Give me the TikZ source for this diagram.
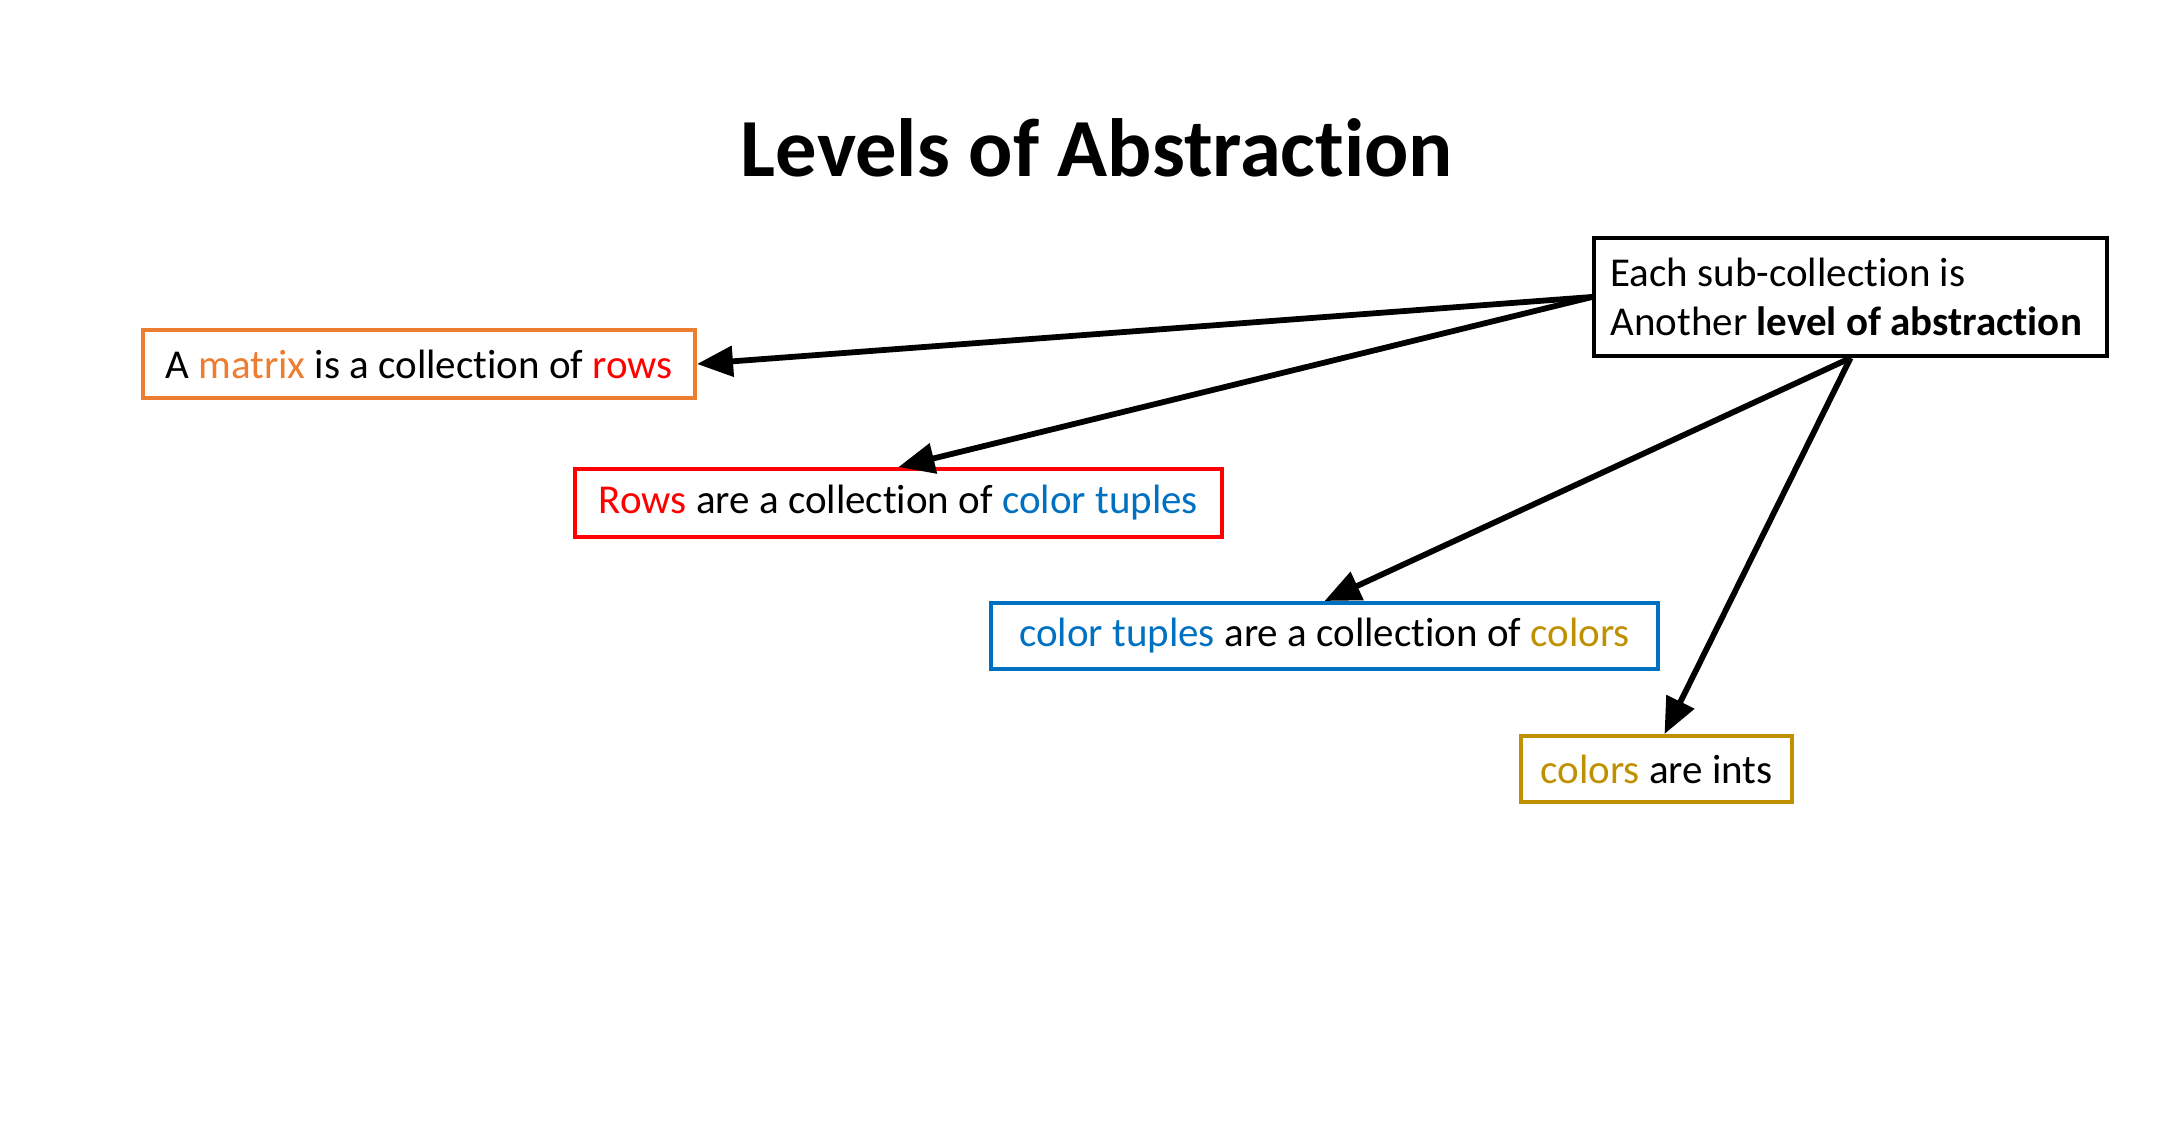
\documentclass[tikz,border=0pt]{standalone}
\usepackage{fontspec}
\setmainfont{Carlito}[Ligatures={NoCommon}]
\usetikzlibrary{arrows.meta}
\definecolor{corange}{HTML}{ED7D31}
\definecolor{cred}{HTML}{FF0000}
\definecolor{cblue}{HTML}{0070C0}
\definecolor{cgold}{HTML}{BF9000}
\begin{document}
\begin{tikzpicture}[x=0.5pt,y=-0.5pt,
  box/.style={draw, line width=2pt, rectangle, inner sep=0pt,
    minimum height=34pt, font=\fontsize{20.5}{24.8}\selectfont, anchor=center},
  link/.style={line width=2.9pt, -{Triangle[length=18pt,width=15pt]}}
]
\useasboundingbox (0,0) rectangle (2158,1128);

\node (title) at (1097,148) {\fontsize{41.3}{48}\selectfont\bfseries Levels of Abstraction};

\node[box, draw=corange, minimum width=276pt] (matrix) at (419,364)
  {A \textcolor{corange}{matrix} is a collection of \textcolor{cred}{rows}};
\node[box, draw=cred, minimum width=323.5pt] (rows) at (898.5,503)
  {\textcolor{cred}{Rows} are a collection of \textcolor{cblue}{color tuples}};
\node[box, draw=cblue, minimum width=333.5pt, minimum height=33pt] (tuples) at (1324.5,636)
  {\textcolor{cblue}{color tuples} are a collection of \textcolor{cgold}{colors}};
\node[box, draw=cgold, minimum width=135.5pt, minimum height=33pt] (colors) at (1656.5,769)
  {\textcolor{cgold}{colors} are ints};
\node[box, draw=black, minimum width=256.5pt, minimum height=59pt,
  align=flush left, text width=240pt, xshift=-0.5pt] (level) at (1851.5,297)
  {Each sub-collection is\\Another \textbf{level of abstraction}};

\draw[link] (level.west) -- (matrix.east);
\draw[link] (level.west) -- (rows.north);
\draw[link] (level.south) -- (tuples.north);
\draw[link] (level.south) -- ([xshift=4pt]colors.north);
\end{tikzpicture}
\end{document}
